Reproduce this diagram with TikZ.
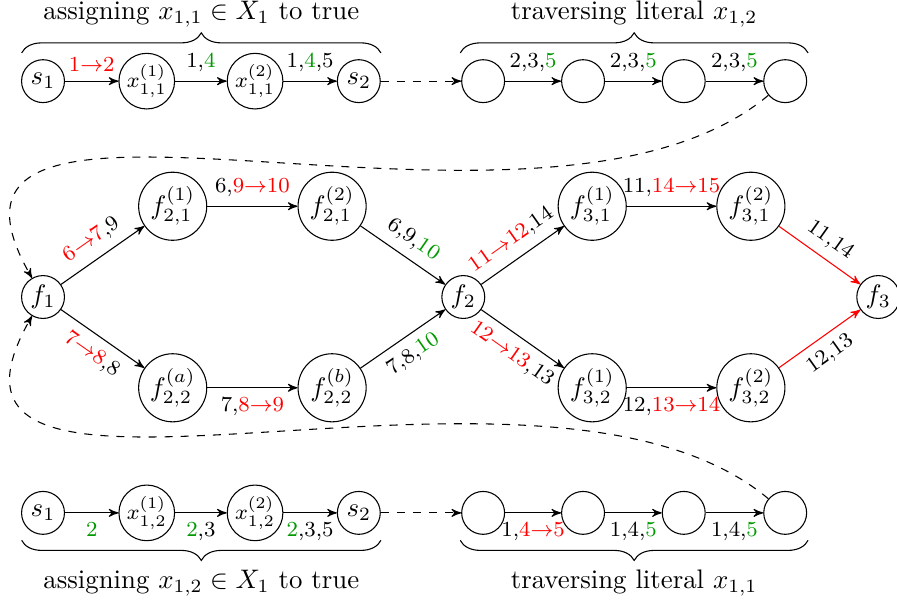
\documentclass[tikz,border=0pt]{standalone}
\usepackage{amssymb,amsmath}
\usepackage{tikz}
\usetikzlibrary{%
  arrows,%
  decorations.pathreplacing%
}
\colorlet{grn}{green!60!black}

\begin{document}
\begin{tikzpicture}[>=stealth',
    vtx/.style={circle,draw,inner sep=0.5pt,minimum size=16pt},
    xvtx/.style={circle,draw,inner sep=0.5pt,minimum size=18.7pt,font=\footnotesize},
    fvtx/.style={circle,draw,inner sep=0.5pt,minimum size=25.4pt},
    lbl/.style={font=\footnotesize},
    brc/.style={decorate,decoration={brace,amplitude=7.5pt}},
    mbrc/.style={decorate,decoration={brace,mirror,amplitude=7.5pt}}]
  \useasboundingbox (-0.564,-3.985) rectangle (11.196,3.894);

  % assigning x_{1,1}, then traversing x_{1,2}
  \node[vtx] (ts1) at (0,2.83) {$s_1$};
  \node[xvtx] (tx1) at (1.36,2.83) {$x^{(1)}_{1,1}$};
  \node[xvtx] (tx2) at (2.78,2.83) {$x^{(2)}_{1,1}$};
  \node[vtx] (ts2) at (4.14,2.83) {$s_2$};
  \node[vtx] (tl1) at (5.77,2.83) {};
  \node[vtx] (tl2) at (7.08,2.83) {};
  \node[vtx] (tl3) at (8.40,2.83) {};
  \node[vtx] (tl4) at (9.73,2.83) {};
  \draw[->] (ts1) -- node[lbl,above] {\textcolor{red}{1$\to$2}} (tx1);
  \draw[->] (tx1) -- node[lbl,above] {1,\textcolor{grn}{4}} (tx2);
  \draw[->] (tx2) -- node[lbl,above] {1,\textcolor{grn}{4},5} (ts2);
  \draw[->,dashed] (ts2) -- (tl1);
  \draw[->] (tl1) -- node[lbl,above] {2,3,\textcolor{grn}{5}} (tl2);
  \draw[->] (tl2) -- node[lbl,above] {2,3,\textcolor{grn}{5}} (tl3);
  \draw[->] (tl3) -- node[lbl,above] {2,3,\textcolor{grn}{5}} (tl4);
  \draw[brc] (-0.28,3.20) -- (4.43,3.20)
    node[midway,above=6pt] {assigning $x_{1,1} \in X_1$ to true};
  \draw[brc] (5.47,3.20) -- (10.03,3.20)
    node[midway,above=6pt] {traversing literal $x_{1,2}$};

  % clause gadgets
  \node[vtx] (f1) at (0,0) {$f_1$};
  \node[fvtx] (f21a) at (1.70,1.19) {$f^{(1)}_{2,1}$};
  \node[fvtx] (f21b) at (3.79,1.19) {$f^{(2)}_{2,1}$};
  \node[fvtx] (f22a) at (1.70,-1.19) {$f^{(a)}_{2,2}$};
  \node[fvtx] (f22b) at (3.79,-1.19) {$f^{(b)}_{2,2}$};
  \node[vtx] (f2) at (5.51,0) {$f_2$};
  \node[fvtx] (f31a) at (7.20,1.19) {$f^{(1)}_{3,1}$};
  \node[fvtx] (f31b) at (9.28,1.19) {$f^{(2)}_{3,1}$};
  \node[fvtx] (f32a) at (7.20,-1.19) {$f^{(1)}_{3,2}$};
  \node[fvtx] (f32b) at (9.28,-1.19) {$f^{(2)}_{3,2}$};
  \node[vtx] (f3) at (10.95,0) {$f_3$};
  \draw[->] (f1) -- node[lbl,above,sloped] {\textcolor{red}{6$\to$7},9} (f21a);
  \draw[->] (f1) -- node[lbl,below,sloped] {\textcolor{red}{7$\to$8},8} (f22a);
  \draw[->] (f21a) -- node[lbl,above] {6,\textcolor{red}{9$\to$10}} (f21b);
  \draw[->] (f22a) -- node[lbl,below] {7,\textcolor{red}{8$\to$9}} (f22b);
  \draw[->] (f21b) -- node[lbl,above,sloped] {6,9,\textcolor{grn}{10}} (f2);
  \draw[->] (f22b) -- node[lbl,below,sloped] {7,8,\textcolor{grn}{10}} (f2);
  \draw[->] (f2) -- node[lbl,above,sloped] {\textcolor{red}{11$\to$12},14} (f31a);
  \draw[->] (f2) -- node[lbl,below,sloped] {\textcolor{red}{12$\to$13},13} (f32a);
  \draw[->] (f31a) -- node[lbl,above] {11,\textcolor{red}{14$\to$15}} (f31b);
  \draw[->] (f32a) -- node[lbl,below] {12,\textcolor{red}{13$\to$14}} (f32b);
  \draw[->,draw=red] (f31b) -- node[lbl,above,sloped] {11,14} (f3);
  \draw[->,draw=red] (f32b) -- node[lbl,below,sloped] {12,13} (f3);

  % assigning x_{1,2}, then traversing x_{1,1}
  \node[vtx] (bs1) at (0,-2.83) {$s_1$};
  \node[xvtx] (bx1) at (1.36,-2.83) {$x^{(1)}_{1,2}$};
  \node[xvtx] (bx2) at (2.78,-2.83) {$x^{(2)}_{1,2}$};
  \node[vtx] (bs2) at (4.14,-2.83) {$s_2$};
  \node[vtx] (bl1) at (5.77,-2.83) {};
  \node[vtx] (bl2) at (7.08,-2.83) {};
  \node[vtx] (bl3) at (8.40,-2.83) {};
  \node[vtx] (bl4) at (9.73,-2.83) {};
  \draw[->] (bs1) -- node[lbl,below] {\textcolor{grn}{2}} (bx1);
  \draw[->] (bx1) -- node[lbl,below] {\textcolor{grn}{2},3} (bx2);
  \draw[->] (bx2) -- node[lbl,below] {\textcolor{grn}{2},3,5} (bs2);
  \draw[->,dashed] (bs2) -- (bl1);
  \draw[->] (bl1) -- node[lbl,below] {1,\textcolor{red}{4$\to$5}} (bl2);
  \draw[->] (bl2) -- node[lbl,below] {1,4,\textcolor{grn}{5}} (bl3);
  \draw[->] (bl3) -- node[lbl,below] {1,4,\textcolor{grn}{5}} (bl4);
  \draw[mbrc] (-0.28,-3.19) -- (4.43,-3.19)
    node[midway,below=7.5pt] {assigning $x_{1,2} \in X_1$ to true};
  \draw[mbrc] (5.47,-3.19) -- (10.03,-3.19)
    node[midway,below=7.5pt] {traversing literal $x_{1,1}$};

  % back to the clauses
  \draw[->,dashed] (tl4) to[out=220,in=120] (f1);
  \draw[->,dashed] (bl4) to[out=140,in=240] (f1);
\end{tikzpicture}
\end{document}
